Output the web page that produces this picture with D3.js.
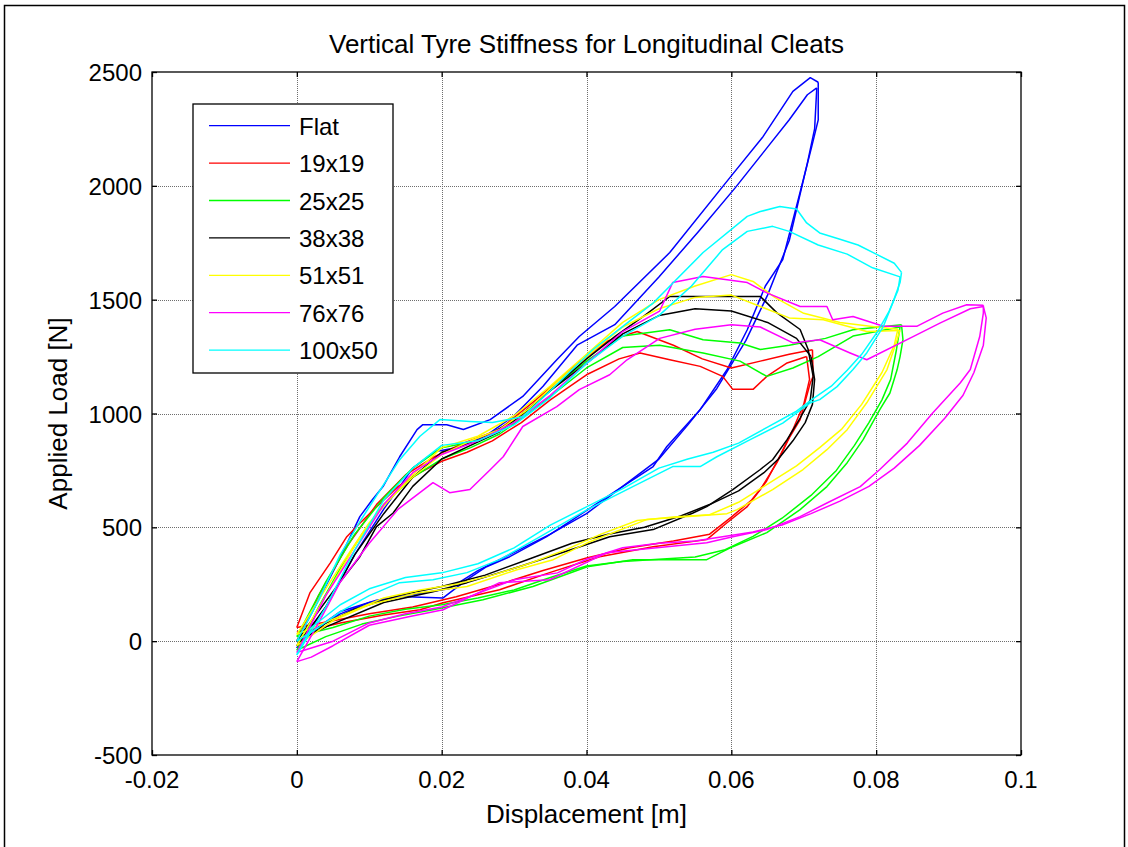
<!DOCTYPE html>
<html>
<head>
<meta charset="utf-8">
<script src="https://cdn.jsdelivr.net/npm/d3@7/dist/d3.min.js"></script>
<style>
  html, body { margin: 0; padding: 0; background: #ffffff; }
  svg { display: block; font-family: Arial, "Liberation Sans", sans-serif; }
</style>
</head>
<body>
<svg id="chart" width="1128" height="847"></svg>
<script>
// Tyre load/displacement loops, one entry per cleat size.
const seriesNames = ["Flat", "19x19", "25x25", "38x38", "51x51", "76x76", "100x50"];
const seriesColors = ["#0000ff", "#ff0000", "#00ff00", "#000000", "#ffff00", "#ff00ff", "#00ffff"];

// [displacement (m), load (N)] paths: two loading passes and two unloading passes.
const flatLoadA = [[0,0],[0.003,180],[0.0062,380],[0.0087,547],[0.0104,620],[0.0119,679],[0.0142,810],[0.0166,929],[0.0174,951],[0.0207,951],[0.023,930],[0.0267,973],[0.0312,1075],[0.0359,1236],[0.039,1338],[0.0439,1470],[0.0515,1707],[0.0598,2036],[0.0644,2217],[0.0685,2415],[0.0709,2475],[0.072,2455]];
const flatLoadB = [[0,-30],[0.004,150],[0.008,380],[0.012,580],[0.016,760],[0.019,832],[0.022,850],[0.026,900],[0.03,990],[0.034,1120],[0.0387,1300],[0.0439,1390],[0.05,1600],[0.0555,1800],[0.0605,1990],[0.065,2170],[0.068,2290],[0.0705,2400],[0.0718,2430]];
const flatUnloadA = [[0.072,2455],[0.072,2290],[0.0711,2172],[0.0697,1997],[0.0671,1676],[0.0647,1560],[0.0622,1368],[0.0594,1192],[0.0557,1017],[0.0511,855],[0.0492,767],[0.0436,650],[0.0381,534],[0.0345,459],[0.0294,371],[0.0262,327],[0.0235,270],[0.0202,190],[0.0142,196],[0.01,170],[0.006,120],[0.003,60],[0,0]];
const flatUnloadB = [[0.0718,2430],[0.0715,2250],[0.0705,2100],[0.068,1760],[0.065,1520],[0.062,1320],[0.058,1110],[0.054,950],[0.05,800],[0.045,680],[0.04,560],[0.035,470],[0.03,390],[0.025,310],[0.021,230],[0.016,205],[0.011,180],[0.006,130],[0.002,40],[0,-30]];

const c19LoadA = [[0,60],[0.0018,212],[0.0046,343],[0.0069,459],[0.0087,518],[0.011,590],[0.014,680],[0.017,740],[0.02,790],[0.0235,830],[0.027,880],[0.031,960],[0.035,1060],[0.04,1170],[0.0445,1240],[0.0474,1266],[0.0515,1236],[0.0557,1207],[0.0588,1163],[0.0602,1106],[0.063,1106],[0.0649,1163],[0.0677,1222],[0.0704,1250]];
const c19LoadB = [[0,0],[0.003,200],[0.007,420],[0.011,600],[0.015,730],[0.019,810],[0.023,870],[0.028,930],[0.033,1060],[0.038,1200],[0.043,1320],[0.047,1360],[0.052,1300],[0.056,1240],[0.06,1200],[0.064,1230],[0.068,1260],[0.0712,1280]];
const c19UnloadA = [[0.0712,1280],[0.0713,1163],[0.0709,1134],[0.0695,973],[0.0681,899],[0.0663,784],[0.064,666],[0.0622,591],[0.0594,520],[0.0566,446],[0.0492,415],[0.0418,371],[0.0349,301],[0.028,226],[0.0202,169],[0.017,138],[0.012,115],[0.006,80],[0.002,50],[0,40]];
const c19UnloadB = [[0.0704,1250],[0.0708,1150],[0.07,1040],[0.0685,930],[0.0668,820],[0.0648,700],[0.0628,620],[0.06,545],[0.057,470],[0.052,440],[0.046,410],[0.04,365],[0.034,310],[0.028,250],[0.022,195],[0.016,150],[0.01,120],[0.005,90],[0,60]];

const c25LoadA = [[0,-40],[0.003,150],[0.006,320],[0.009,470],[0.012,600],[0.016,720],[0.02,800],[0.024,850],[0.028,910],[0.032,1000],[0.036,1100],[0.04,1200],[0.045,1290],[0.0501,1300],[0.0561,1266],[0.0612,1230],[0.0649,1163],[0.0685,1200],[0.072,1250],[0.0768,1340],[0.0833,1380]];
const c25LoadB = [[0,20],[0.004,260],[0.008,470],[0.012,630],[0.016,760],[0.02,850],[0.025,880],[0.03,960],[0.035,1100],[0.04,1230],[0.045,1340],[0.0515,1368],[0.0561,1324],[0.0612,1310],[0.064,1281],[0.068,1300],[0.073,1330],[0.0768,1368],[0.0835,1390]];
const c25UnloadA = [[0.0835,1390],[0.0837,1324],[0.0833,1250],[0.0829,1193],[0.0819,1090],[0.0805,1017],[0.0782,885],[0.076,784],[0.0732,679],[0.0695,578],[0.0649,477],[0.0602,415],[0.0566,358],[0.0464,358],[0.0401,327],[0.0326,240],[0.0257,182],[0.0188,138],[0.014,110],[0.009,75],[0.004,20],[0,-40]];
const c25UnloadB = [[0.0833,1380],[0.0828,1280],[0.082,1150],[0.0808,1060],[0.079,960],[0.077,860],[0.0745,750],[0.071,640],[0.067,540],[0.063,460],[0.059,400],[0.055,370],[0.05,360],[0.045,350],[0.04,330],[0.035,280],[0.03,225],[0.025,190],[0.02,160],[0.015,140],[0.01,110],[0.005,60],[0,20]];

const c38LoadA = [[0,0],[0.0008,37],[0.0059,257],[0.0087,371],[0.011,503],[0.0133,563],[0.016,680],[0.02,800],[0.024,860],[0.028,920],[0.032,1020],[0.036,1130],[0.04,1240],[0.044,1340],[0.048,1430],[0.0515,1514],[0.064,1514],[0.0663,1442],[0.0695,1369],[0.0706,1282],[0.0713,1163]];
const c38LoadB = [[0,-20],[0.004,150],[0.008,380],[0.012,560],[0.016,720],[0.02,830],[0.025,880],[0.03,970],[0.035,1100],[0.04,1220],[0.045,1350],[0.05,1430],[0.055,1460],[0.06,1450],[0.065,1400],[0.069,1330],[0.071,1250]];
const c38UnloadA = [[0.0713,1163],[0.0709,1060],[0.0695,980],[0.0677,885],[0.0657,797],[0.064,754],[0.0602,666],[0.0566,591],[0.0547,563],[0.0492,490],[0.0432,459],[0.0391,415],[0.031,330],[0.0235,257],[0.0188,217],[0.012,170],[0.0041,64],[0,0]];
const c38UnloadB = [[0.071,1250],[0.0715,1150],[0.0712,1040],[0.0702,960],[0.0685,880],[0.0665,800],[0.0645,740],[0.061,660],[0.057,600],[0.053,550],[0.048,500],[0.043,470],[0.038,430],[0.032,360],[0.026,290],[0.02,240],[0.014,200],[0.008,140],[0.004,80],[0,-20]];

const c51LoadA = [[0,-20],[0.004,200],[0.008,420],[0.012,600],[0.016,720],[0.02,820],[0.024,880],[0.028,930],[0.032,1020],[0.036,1140],[0.04,1250],[0.045,1380],[0.05,1460],[0.055,1510],[0.06,1520],[0.064,1470],[0.068,1420],[0.0727,1412],[0.0787,1360],[0.0833,1365]];
const c51LoadB = [[0,30],[0.005,280],[0.01,520],[0.015,700],[0.02,850],[0.025,900],[0.03,990],[0.035,1120],[0.04,1260],[0.045,1400],[0.05,1500],[0.055,1560],[0.06,1610],[0.063,1580],[0.066,1510],[0.07,1440],[0.075,1400],[0.08,1380],[0.083,1370]];
const c51UnloadA = [[0.0833,1365],[0.0829,1324],[0.0815,1193],[0.0787,1047],[0.076,929],[0.0732,841],[0.0699,754],[0.0657,666],[0.0608,578],[0.0594,560],[0.0483,534],[0.0401,432],[0.0354,358],[0.0304,314],[0.0235,240],[0.0166,212],[0.01,160],[0.005,90],[0,-20]];
const c51UnloadB = [[0.083,1370],[0.0825,1300],[0.0808,1180],[0.078,1040],[0.0752,930],[0.0722,850],[0.069,770],[0.065,690],[0.061,610],[0.057,555],[0.052,545],[0.047,530],[0.042,470],[0.037,400],[0.032,340],[0.027,290],[0.022,250],[0.017,225],[0.012,190],[0.006,110],[0,30]];

const c76LoadA = [[0,-90],[0.003,80],[0.006,260],[0.01,430],[0.014,580],[0.0188,696],[0.0211,652],[0.0239,666],[0.0267,753],[0.0285,810],[0.0312,943],[0.0359,1030],[0.039,1105],[0.0432,1170],[0.0456,1236],[0.0501,1330],[0.055,1370],[0.06,1390],[0.064,1380],[0.0685,1310],[0.0722,1324],[0.0764,1266],[0.0787,1236],[0.0851,1338],[0.0888,1397],[0.093,1460],[0.0948,1470]];
const c76LoadB = [[0,-50],[0.004,200],[0.008,400],[0.012,600],[0.016,740],[0.02,820],[0.025,880],[0.03,960],[0.035,1080],[0.04,1220],[0.045,1360],[0.0501,1450],[0.0519,1575],[0.0561,1602],[0.0622,1575],[0.0649,1530],[0.0695,1470],[0.0732,1470],[0.074,1412],[0.0768,1426],[0.081,1383],[0.0856,1383],[0.0892,1441],[0.0925,1478],[0.0948,1475]];
const c76UnloadA = [[0.0948,1475],[0.0948,1441],[0.0943,1338],[0.093,1193],[0.0916,1134],[0.0878,1002],[0.0843,870],[0.0805,754],[0.0778,679],[0.0732,607],[0.0695,547],[0.0649,490],[0.0602,459],[0.0566,432],[0.0511,415],[0.0428,388],[0.0349,270],[0.028,257],[0.0202,138],[0.0156,108],[0.01,70],[0.005,-20],[0.002,-70],[0,-90]];
const c76UnloadB = [[0.0948,1470],[0.0952,1420],[0.0948,1300],[0.0935,1180],[0.092,1080],[0.0895,980],[0.086,860],[0.0825,760],[0.079,680],[0.075,615],[0.071,560],[0.067,510],[0.063,480],[0.059,460],[0.055,440],[0.05,430],[0.045,410],[0.04,360],[0.036,300],[0.03,270],[0.025,210],[0.02,150],[0.015,120],[0.01,80],[0.005,0],[0,-50]];

const c100LoadA = [[0,0],[0.003,180],[0.006,380],[0.009,540],[0.0142,797],[0.017,900],[0.0198,974],[0.0239,965],[0.027,960],[0.0312,986],[0.035,1100],[0.0409,1281],[0.0456,1397],[0.0492,1485],[0.0561,1707],[0.0622,1866],[0.064,1887],[0.0667,1909],[0.069,1898],[0.0704,1837],[0.0722,1793],[0.075,1765],[0.0775,1740],[0.08,1700],[0.0825,1660],[0.0835,1620]];
const c100LoadB = [[0,-60],[0.004,150],[0.008,400],[0.012,620],[0.016,760],[0.02,860],[0.025,880],[0.03,950],[0.035,1070],[0.04,1220],[0.045,1340],[0.05,1430],[0.0545,1560],[0.0588,1720],[0.0622,1800],[0.0657,1822],[0.068,1800],[0.072,1740],[0.076,1700],[0.0795,1640],[0.0833,1600]];
const c100UnloadA = [[0.0835,1620],[0.0833,1575],[0.0823,1487],[0.081,1383],[0.0787,1266],[0.0768,1193],[0.0746,1118],[0.0722,1061],[0.0709,1047],[0.0671,958],[0.0626,885],[0.058,810],[0.0557,767],[0.0519,767],[0.0464,679],[0.0401,578],[0.0336,459],[0.028,358],[0.0235,301],[0.0188,270],[0.0142,257],[0.01,200],[0.006,130],[0.003,60],[0,0]];
const c100UnloadB = [[0.0833,1600],[0.083,1540],[0.0818,1450],[0.0802,1360],[0.078,1260],[0.076,1190],[0.0738,1120],[0.0715,1070],[0.069,1010],[0.065,940],[0.061,870],[0.0575,830],[0.054,800],[0.05,760],[0.045,670],[0.04,590],[0.035,510],[0.03,410],[0.025,340],[0.02,300],[0.015,280],[0.01,230],[0.006,160],[0.002,60],[0,-60]];

const seriesPaths = [
  [flatLoadA, flatLoadB, flatUnloadA, flatUnloadB],
  [c19LoadA, c19LoadB, c19UnloadA, c19UnloadB],
  [c25LoadA, c25LoadB, c25UnloadA, c25UnloadB],
  [c38LoadA, c38LoadB, c38UnloadA, c38UnloadB],
  [c51LoadA, c51LoadB, c51UnloadA, c51UnloadB],
  [c76LoadA, c76LoadB, c76UnloadA, c76UnloadB],
  [c100LoadA, c100LoadB, c100UnloadA, c100UnloadB]
];

const xTicks = [-0.02, 0, 0.02, 0.04, 0.06, 0.08, 0.1];
const xTickLabels = ["-0.02", "0", "0.02", "0.04", "0.06", "0.08", "0.1"];
const yTicks = [-500, 0, 500, 1000, 1500, 2000, 2500];
const yTickLabels = ["-500", "0", "500", "1000", "1500", "2000", "2500"];

const titleText = "Vertical Tyre Stiffness for Longitudinal Cleats";
const xLabelText = "Displacement [m]";
const yLabelText = "Applied Load [N]";

// Layout
const plot = { left: 152, right: 1021, top: 72, bottom: 755 };
const svg = d3.select("#chart");

// Figure frame
svg.append("rect").attr("x", 4.5).attr("y", 5.5).attr("width", 1120).attr("height", 1000)
  .attr("fill", "#ffffff").attr("stroke", "#000000").attr("stroke-width", 1.5);

const x = d3.scaleLinear().domain([-0.02, 0.1]).range([plot.left, plot.right]);
const y = d3.scaleLinear().domain([-500, 2500]).range([plot.bottom, plot.top]);

// Grid (dotted)
const grid = svg.append("g").attr("stroke", "#6e6e6e").attr("stroke-width", 1).attr("stroke-dasharray", "1,1");
grid.selectAll("line.gx").data(xTicks.slice(1, -1)).enter().append("line")
  .attr("x1", d => Math.round(x(d)) + 0.5).attr("x2", d => Math.round(x(d)) + 0.5)
  .attr("y1", plot.top).attr("y2", plot.bottom);
grid.selectAll("line.gy").data(yTicks.slice(1, -1)).enter().append("line")
  .attr("y1", d => Math.round(y(d)) + 0.5).attr("y2", d => Math.round(y(d)) + 0.5)
  .attr("x1", plot.left).attr("x2", plot.right);

// Data
svg.append("clipPath").attr("id", "plotClip").append("rect")
  .attr("x", plot.left).attr("y", plot.top)
  .attr("width", plot.right - plot.left).attr("height", plot.bottom - plot.top);

const line = d3.line().x(d => x(d[0])).y(d => y(d[1])).curve(d3.curveLinear);
const dataLayer = svg.append("g").attr("clip-path", "url(#plotClip)");
seriesPaths.forEach((paths, i) => {
  const g = dataLayer.append("g");
  paths.forEach(p => {
    g.append("path").attr("d", line(p)).attr("fill", "none")
      .attr("stroke", seriesColors[i]).attr("stroke-width", 1.5)
      .attr("stroke-linejoin", "round");
  });
});

// Axes box with inward ticks on all four sides
const tickLen = 5;
const axisG = svg.append("g").attr("stroke", "#000").attr("stroke-width", 1.3).attr("fill", "none");
axisG.append("rect").attr("x", plot.left).attr("y", plot.top)
  .attr("width", plot.right - plot.left).attr("height", plot.bottom - plot.top);

const xAxisBottom = d3.axisBottom(x).tickValues(xTicks).tickSize(-tickLen).tickFormat("");
const xAxisTop = d3.axisTop(x).tickValues(xTicks).tickSize(-tickLen).tickFormat("");
const yAxisLeft = d3.axisLeft(y).tickValues(yTicks).tickSize(-tickLen).tickFormat("");
const yAxisRight = d3.axisRight(y).tickValues(yTicks).tickSize(-tickLen).tickFormat("");
[
  [xAxisBottom, `translate(0,${plot.bottom})`],
  [xAxisTop, `translate(0,${plot.top})`],
  [yAxisLeft, `translate(${plot.left},0)`],
  [yAxisRight, `translate(${plot.right},0)`]
].forEach(([ax, tr]) => {
  const g = svg.append("g").attr("transform", tr).call(ax);
  g.select(".domain").remove();
  g.selectAll(".tick line").attr("stroke", "#000").attr("stroke-width", 1.3);
});

// Tick labels
svg.append("g").selectAll("text").data(xTicks).enter().append("text")
  .attr("x", d => x(d)).attr("y", 788)
  .attr("text-anchor", "middle").attr("font-size", 24).attr("fill", "#000")
  .text((d, i) => xTickLabels[i]);
svg.append("g").selectAll("text").data(yTicks).enter().append("text")
  .attr("x", 142).attr("y", d => y(d) + 9)
  .attr("text-anchor", "end").attr("font-size", 24).attr("fill", "#000")
  .text((d, i) => yTickLabels[i]);

// Title and axis labels
svg.append("text").attr("x", (plot.left + plot.right) / 2).attr("y", 53)
  .attr("text-anchor", "middle").attr("font-size", 26).attr("fill", "#000").text(titleText);
svg.append("text").attr("x", (plot.left + plot.right) / 2).attr("y", 823)
  .attr("text-anchor", "middle").attr("font-size", 26).attr("fill", "#000").text(xLabelText);
svg.append("text").attr("transform", `translate(67,${(plot.top + plot.bottom) / 2}) rotate(-90)`)
  .attr("text-anchor", "middle").attr("font-size", 26).attr("fill", "#000").text(yLabelText);

// Legend
const legend = { x: 193, y: 104, w: 200, h: 269, rowTop: 125.7, rowGap: 37.4 };
svg.append("rect").attr("x", legend.x).attr("y", legend.y).attr("width", legend.w).attr("height", legend.h)
  .attr("fill", "#ffffff").attr("stroke", "#000").attr("stroke-width", 1.3);
const lg = svg.append("g").selectAll("g").data(seriesNames).enter().append("g")
  .attr("transform", (d, i) => `translate(0,${legend.rowTop + i * legend.rowGap})`);
lg.append("line").attr("x1", 209).attr("x2", 290).attr("y1", 0).attr("y2", 0)
  .attr("stroke", (d, i) => seriesColors[i]).attr("stroke-width", 1.3);
lg.append("text").attr("x", 299).attr("y", 9).attr("font-size", 24).attr("fill", "#000").text(d => d);
</script>
</body>
</html>
